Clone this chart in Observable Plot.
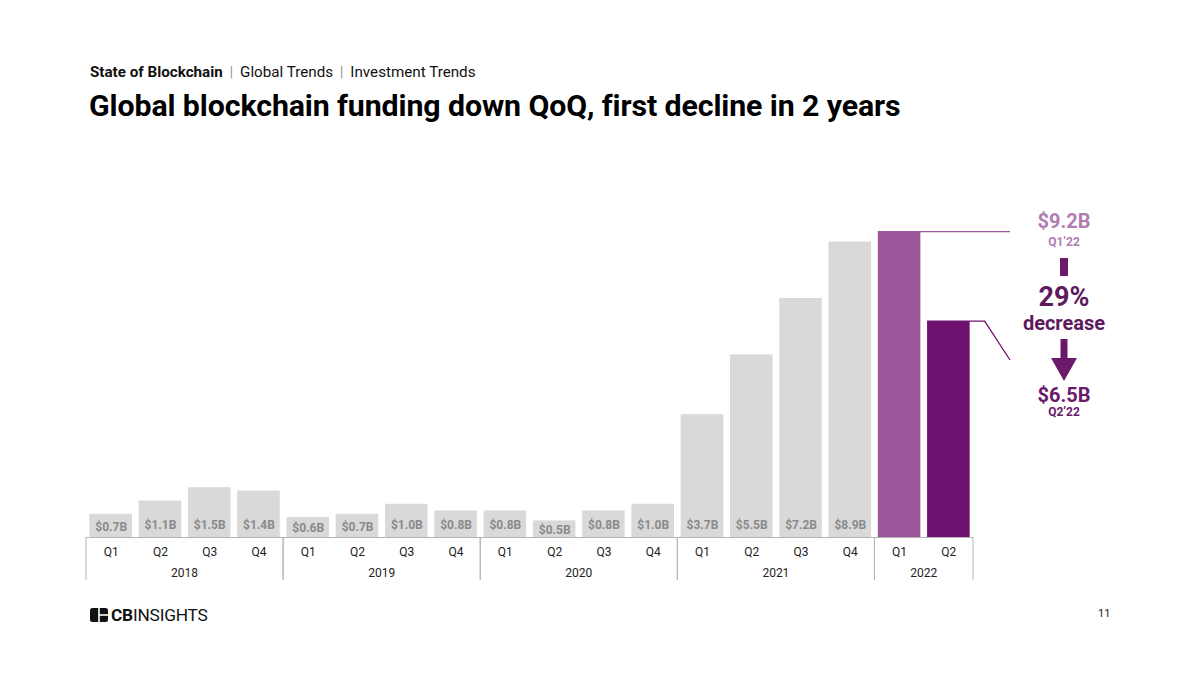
<!DOCTYPE html>
<html><head><meta charset="utf-8">
<script src="https://cdn.jsdelivr.net/npm/d3@7"></script>
<script src="https://cdn.jsdelivr.net/npm/@observablehq/plot@0.6"></script>
<style>
body{margin:0;width:1200px;height:675px;overflow:hidden;background:#fff;font-family:Roboto,sans-serif;position:relative}
#chart{position:absolute;left:0;top:0}
.abs{position:absolute;white-space:nowrap}
.ann{position:absolute;left:1004px;width:120px;text-align:center;font-weight:700;white-space:nowrap}
</style></head><body>
<div class="abs" style="left:90px;top:63px;font-size:15.2px;color:#111"><b>State of Blockchain</b> <span style="color:#9a9a9a;margin:0 3px">|</span> Global Trends <span style="color:#9a9a9a;margin:0 3px">|</span> Investment Trends</div>
<div class="abs" style="left:89px;top:88px;font-size:30.3px;font-weight:700;color:#000;letter-spacing:-0.1px">Global blockchain funding down QoQ, first decline in 2 years</div>
<div id="chart"></div>
<div class="ann" style="top:208px;font-size:20px;line-height:26px;color:#b07db1">$9.2B</div>
<div class="ann" style="top:235px;font-size:12px;line-height:14px;color:#b07db1">Q1’22</div>
<div class="abs" style="left:1060px;top:258px;width:8px;height:18px;background:#6b1a6a"></div>
<div class="ann" style="top:280px;font-size:27px;line-height:34px;color:#5e1a5d">29%</div>
<div class="ann" style="top:310px;font-size:20px;line-height:26px;color:#5e1a5d">decrease</div>
<svg class="abs" style="left:1050px;top:339px" width="28" height="44"><path d="M10.5,0 H17.5 V19 H27 L14,42 L1,19 H10.5 Z" fill="#6b1a6a"/></svg>
<div class="ann" style="top:382px;font-size:20px;line-height:26px;color:#6b1a6a">$6.5B</div>
<div class="ann" style="top:405px;font-size:12px;line-height:14px;color:#6b1a6a">Q2’22</div>
<div class="abs" style="left:90px;top:605px;display:flex;align-items:center">
<svg width="18" height="14" style="margin-right:3px"><rect x="0" y="0" width="18" height="14" rx="2.5" fill="#111"/><rect x="8.2" y="0" width="1.6" height="14" fill="#fff"/><rect x="9" y="6.2" width="9" height="1.6" fill="#fff"/></svg>
<span style="font-size:17.3px;color:#111;letter-spacing:-0.2px"><b>CB</b>INSIGHTS</span></div>
<div class="abs" style="left:1098px;top:607px;font-size:11px;color:#222">11</div>
<script>
const years = ["2018","2019","2020","2021","2022"];
const quartersPerYear = [["Q1","Q2","Q3","Q4"],["Q1","Q2","Q3","Q4"],["Q1","Q2","Q3","Q4"],["Q1","Q2","Q3","Q4"],["Q1","Q2"]];
const values = [0.7,1.1,1.5,1.4, 0.6,0.7,1.0,0.8, 0.8,0.5,0.8,1.0, 3.7,5.5,7.2,8.9, 9.2,6.5];
const barLabels = ["$0.7B","$1.1B","$1.5B","$1.4B","$0.6B","$0.7B","$1.0B","$0.8B","$0.8B","$0.5B","$0.8B","$1.0B","$3.7B","$5.5B","$7.2B","$8.9B","",""];
const groups = ["past","past","past","past","past","past","past","past","past","past","past","past","past","past","past","past","q1","q2"];

const data = [];
years.forEach((yr, i) => quartersPerYear[i].forEach(q => data.push({year: yr, quarter: q, key: yr + " " + q})));
data.forEach((d, i) => { d.value = values[i]; d.label = barLabels[i]; d.group = groups[i]; });
const keys = data.map(d => d.key);

const frameColor = "#b5b5b5";
function axisFrame(index, scales) {
  const x = scales.x, y = scales.y;
  const bw = x.bandwidth(), off = (x.step() - bw) / 2;
  const y0 = y(0);
  const g = d3.create("svg:g");
  g.append("line").attr("x1", x(keys[0]) - off).attr("x2", x(keys[keys.length-1]) + bw + off)
    .attr("y1", y0 + 0.5).attr("y2", y0 + 0.5).attr("stroke", frameColor);
  years.forEach(yr => {
    const ks = data.filter(d => d.year === yr).map(d => d.key);
    const a = x(ks[0]) - off, b = x(ks[ks.length-1]) + bw + off;
    [a, b].forEach(px => g.append("line").attr("x1", px).attr("x2", px).attr("y1", y0).attr("y2", y0 + 43).attr("stroke", frameColor));
    g.append("text").attr("x", (a + b) / 2).attr("y", y0 + 40).attr("text-anchor", "middle")
      .attr("font-size", 12).attr("fill", "#222").attr("font-family", "Roboto").text(yr);
  });
  return g.node();
}
function leaders(index, scales) {
  const x = scales.x, y = scales.y;
  const bw = x.bandwidth();
  const g = d3.create("svg:g").attr("fill", "none");
  const q1 = data[16], q2 = data[17];
  g.append("path").attr("d", `M${x(q1.key)},${y(q1.value)}H1010`).attr("stroke", "#9b579a").attr("stroke-width", 1.3);
  g.append("path").attr("d", `M${x(q2.key)},${y(q2.value)}H${x(q2.key) + bw + 15}L1010,360`).attr("stroke", "#6e106d").attr("stroke-width", 1.3);
  return g.node();
}

const chart = Plot.plot({
  width: 1200, height: 675,
  marginLeft: 86, marginRight: 227, marginTop: 205, marginBottom: 138,
  style: {fontFamily: "Roboto", background: "transparent"},
  x: {domain: keys, paddingInner: 0.136, paddingOuter: 0.068, round: false},
  y: {domain: [0, 10], axis: null},
  color: {domain: ["past","q1","q2"], range: ["#d9d9d9","#9b579a","#6e106d"]},
  marks: [
    Plot.barY(data, {x: "key", y: "value", fill: "group"}),
    Plot.text(data.filter(d => d.label), {x: "key", y: d => Math.min(d.value, 0.8) / 2, dy: 1, text: "label", fill: "#8a8a8a", fontWeight: "bold", fontSize: 12}),
    axisFrame,
    Plot.axisX({tickFormat: k => k.split(" ")[1], tickSize: 0, tickPadding: 10, fontSize: 12, label: null, color: "#222"}),
    leaders
  ]
});
document.getElementById("chart").append(chart);
</script>
</body></html>
